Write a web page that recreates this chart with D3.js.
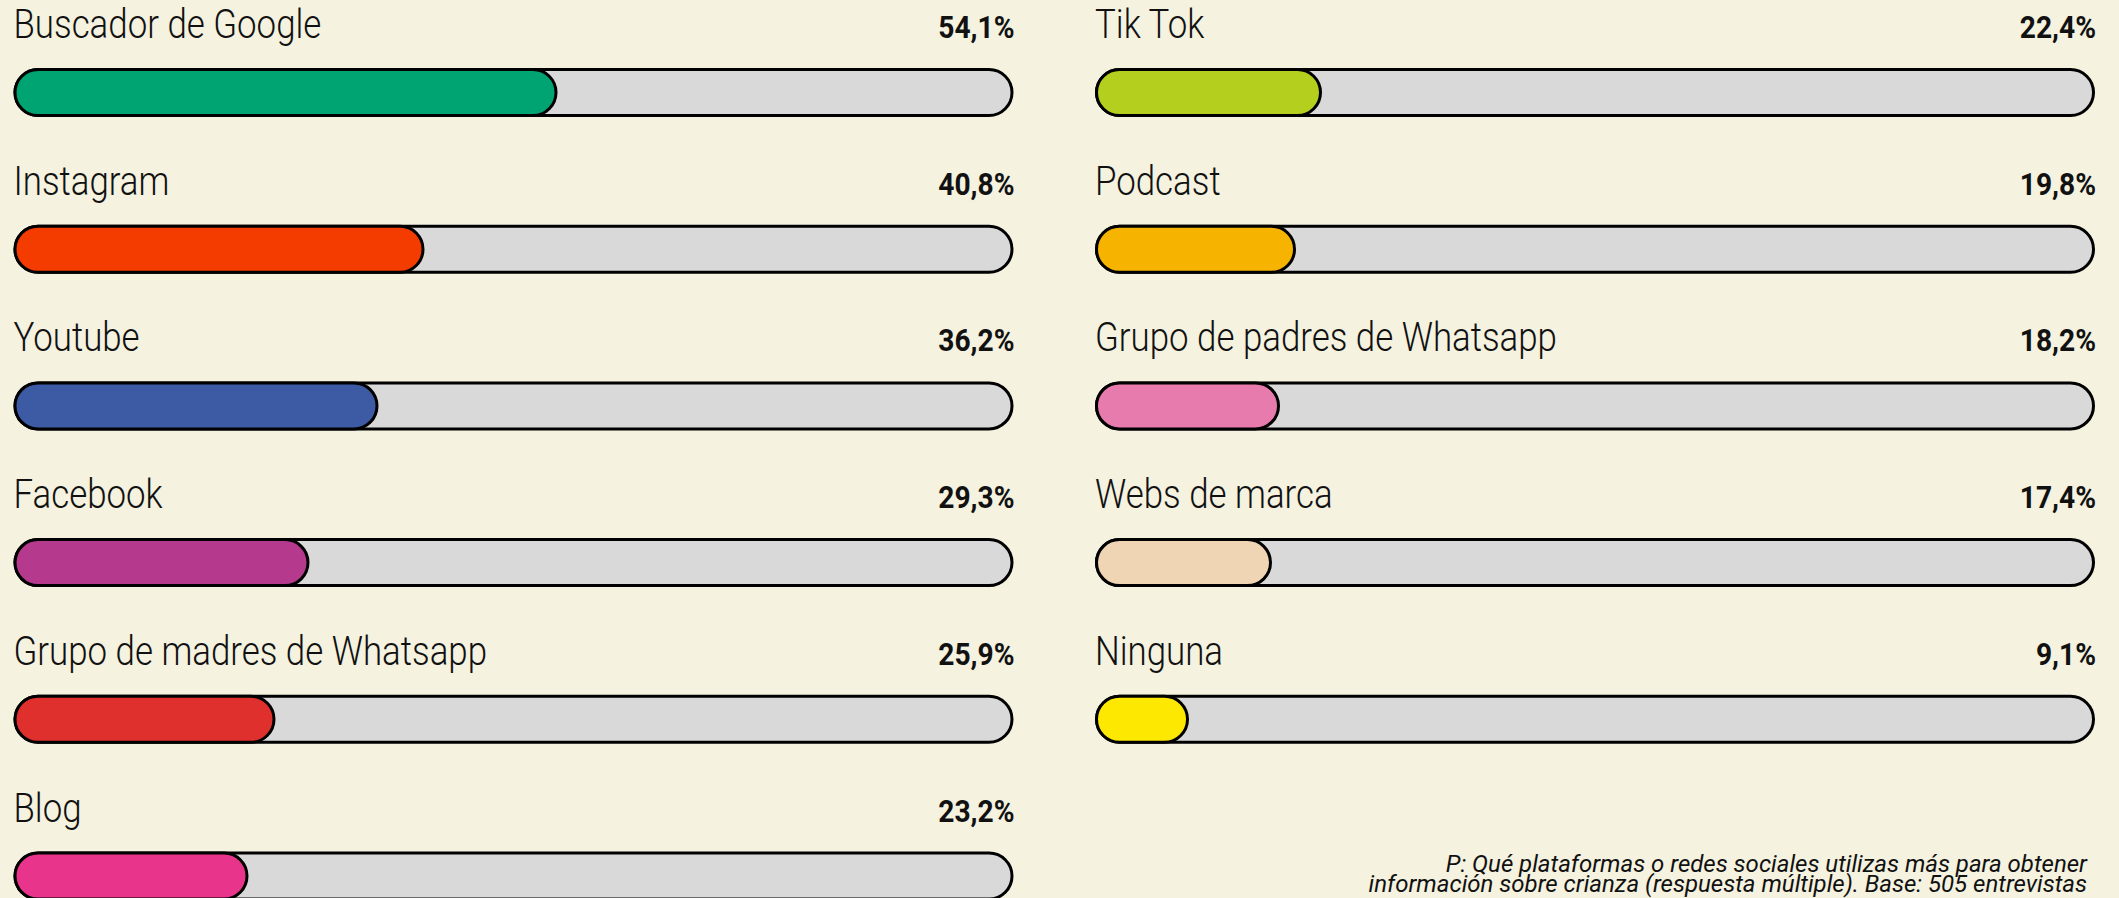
<!DOCTYPE html>
<html>
<head>
<meta charset="utf-8">
<script src="https://cdn.jsdelivr.net/npm/d3@7"></script>
<style>
  html, body { margin: 0; padding: 0; background: #f5f2e0; overflow: hidden; }
  .label { font-family: Roboto, 'DejaVu Sans Condensed', sans-serif; font-size: 41px; font-weight: 300; fill: #111; }
  .value { font-family: Roboto, 'DejaVu Sans Condensed', sans-serif; font-size: 32px; font-weight: bold; fill: #111; }
  .note { font-family: Roboto, 'DejaVu Sans Condensed', sans-serif; font-size: 24px; font-weight: 400; font-style: italic; fill: #111; }
</style>
</head>
<body>
<script>
// platforms, split in the two columns of the picture
var leftNames = ["Buscador de Google", "Instagram", "Youtube", "Facebook", "Grupo de madres de Whatsapp", "Blog"];
var leftValues = [54.1, 40.8, 36.2, 29.3, 25.9, 23.2];
var leftColors = ["#00a372", "#f53c00", "#3d5aa5", "#b5398c", "#e0302e", "#e8348b"];

var rightNames = ["Tik Tok", "Podcast", "Grupo de padres de Whatsapp", "Webs de marca", "Ninguna"];
var rightValues = [22.4, 19.8, 18.2, 17.4, 9.1];
var rightColors = ["#b5cf1e", "#f6b400", "#e87bad", "#f0d5b4", "#fce800"];

var noteLines = [
    "P: Qué plataformas o redes sociales utilizas más para obtener",
    "información sobre crianza (respuesta múltiple). Base: 505 entrevistas"
];

window.onload = function(){

    var w = 2119, h = 898;
    var barH = 46, rowStep = 156.7;
    // the original type is a narrow grotesque, so squeeze the text sideways
    var labelSqueeze = 0.85, valueSqueeze = 0.88;
    var format = function(v){ return d3.format(".1f")(v).replace(".", ",") + "%"; };

    var svg = d3.select("body")
        .append("svg")
        .attr("width", w)
        .attr("height", h)
        .style("background-color", "#f5f2e0");

    // row positions, same for both columns
    var y = d3.scaleBand()
        .domain(d3.range(6))
        .range([0, 6 * rowStep]);

    // one column = a group with its own x scale (0-100%)
    function drawColumn(names, values, colors, x0){
        var x = d3.scaleLinear()
            .domain([0, 100])
            .range([x0, x0 + 1000]);

        var data = names.map(function(n, i){
            return { name: n, value: values[i], color: colors[i] };
        });

        var rows = svg.selectAll(null)
            .data(data)
            .enter()
            .append("g")
            .attr("transform", function(d, i){ return "translate(0," + y(i) + ")"; });

        // label on the left
        rows.append("text")
            .attr("class", "label")
            .attr("transform", "translate(" + x(0) + ",38) scale(" + labelSqueeze + ",1)")
            .text(function(d){ return d.name; });

        // value on the right, bold
        rows.append("text")
            .attr("class", "value")
            .attr("text-anchor", "end")
            .attr("transform", "translate(" + (x(100) + 1) + ",38) scale(" + valueSqueeze + ",1)")
            .text(function(d){ return format(d.value); });

        // grey track
        rows.append("rect")
            .attr("x", x(0) + 1.5)
            .attr("y", 69.5)
            .attr("width", x(100) - x(0) - 3)
            .attr("height", barH)
            .attr("rx", barH / 2)
            .style("fill", "#d9d9d9")
            .style("stroke", "#000")
            .style("stroke-width", 3);

        // coloured fill
        rows.append("rect")
            .attr("x", x(0) + 1.5)
            .attr("y", 69.5)
            .attr("width", function(d){ return x(d.value) - x(0); })
            .attr("height", barH)
            .attr("rx", barH / 2)
            .style("fill", function(d){ return d.color; })
            .style("stroke", "#000")
            .style("stroke-width", 3);
    }

    drawColumn(leftNames, leftValues, leftColors, 13.5);
    drawColumn(rightNames, rightValues, rightColors, 1095);

    // footnote, bottom right
    svg.selectAll(".note")
        .data(noteLines)
        .enter()
        .append("text")
        .attr("class", "note")
        .attr("text-anchor", "end")
        .attr("x", 2087)
        .attr("y", function(d, i){ return 872 + i * 20; })
        .text(function(d){ return d; });
};
</script>
</body>
</html>
